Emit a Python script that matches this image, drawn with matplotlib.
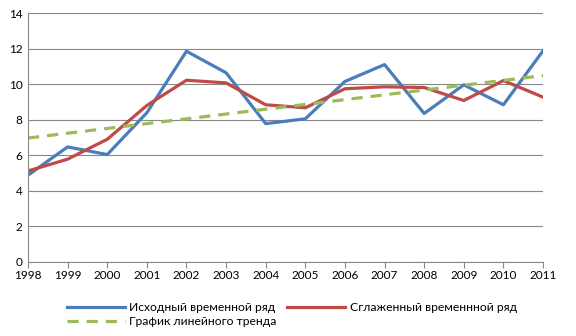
import matplotlib
matplotlib.use("Agg")
import matplotlib.pyplot as plt

years = list(range(1998, 2012))
original = [4.88, 6.47, 6.04, 8.39, 11.85, 10.64, 7.78, 8.05, 10.15, 11.1, 8.35, 9.96, 8.84, 11.87]
smoothed = [5.12, 5.78, 6.9, 8.8, 10.22, 10.07, 8.84, 8.67, 9.74, 9.85, 9.81, 9.08, 10.2, 9.27]
trend = [6.97, 7.24, 7.51, 7.78, 8.05, 8.32, 8.59, 8.86, 9.13, 9.40, 9.67, 9.94, 10.21, 10.48]

plt.rcParams['font.family'] = ['Lato', 'DejaVu Sans']

fig = plt.figure(figsize=(5.76, 3.36), dpi=100)
ax = fig.add_axes([28/576, 1 - 262/336, (543-28)/576, (262-13)/336])

l1, = ax.plot(years, original, color='#4a7ebb', lw=2.3, label='Исходный временной ряд')
l2, = ax.plot(years, smoothed, color='#be4b48', lw=2.3, label='Сглаженный временнной ряд')
l3, = ax.plot(years, trend, color='#9bbb59', lw=2.3, ls=(0, (3.5, 2.5)), label='График линейного тренда')

ax.set_xlim(1998, 2011)
ax.set_ylim(0, 14)
ax.set_yticks(range(0, 15, 2))
ax.set_xticks(years)
ax.grid(axis='y', color='#888888', lw=0.8)
ax.set_axisbelow(True)
for s in ['top', 'right']:
    ax.spines[s].set_visible(False)
ax.spines['left'].set_color('#888888')
ax.spines['bottom'].set_color('#888888')
ax.tick_params(axis='y', length=0, labelsize=8.5, pad=4)
ax.tick_params(axis='x', length=4, color='#888888', labelsize=8.5, pad=2)

# row-major order: original, smoothed / trend
fig.legend(handles=[l1, l3, l2], loc='upper left', bbox_to_anchor=(62/576, 1 - 297/336),
           ncol=2, frameon=False, fontsize=8.7, handlelength=4.8, handletextpad=0.35,
           columnspacing=0.9, labelspacing=0.25, borderaxespad=0)

fig.savefig('out.png', dpi=100)
